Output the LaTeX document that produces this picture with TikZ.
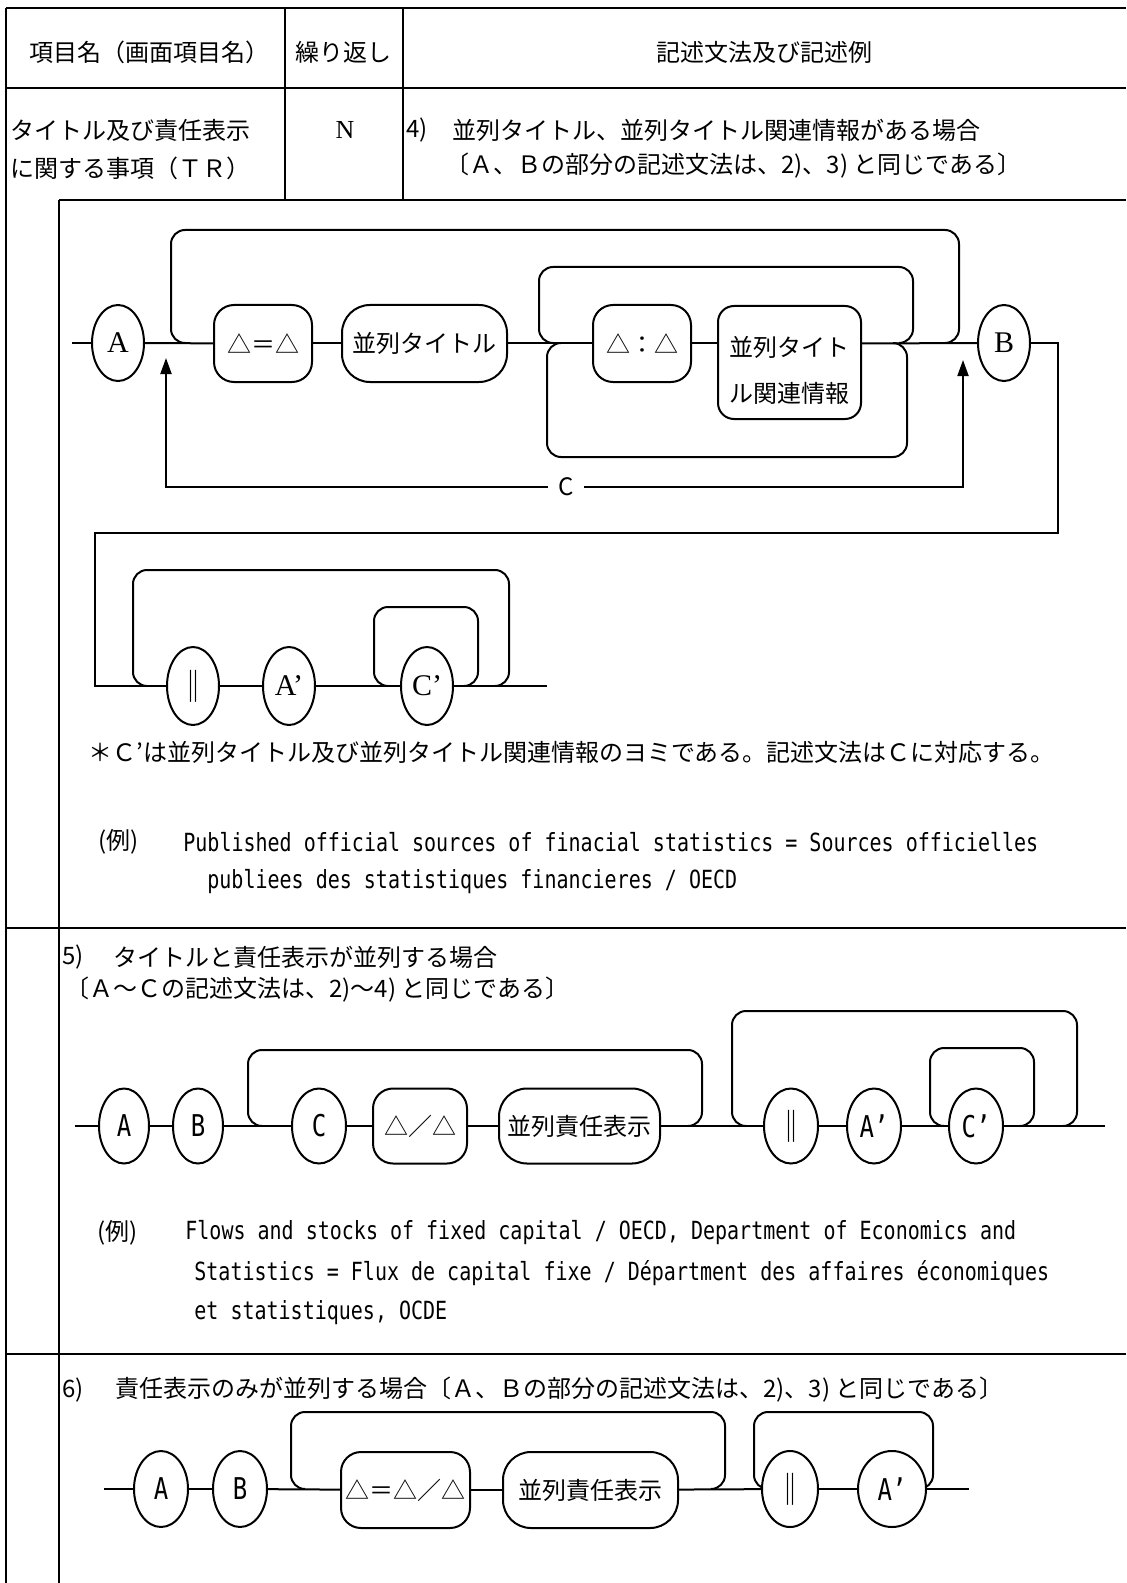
\documentclass[tikz,border=0pt]{standalone}
\usepackage{fontspec}
\usepackage{graphicx}
\setmainfont{Liberation Serif}
\newfontfamily\jp{Noto Sans CJK JP}
\newfontfamily\monof{DejaVu Sans Mono}
\usetikzlibrary{shapes.geometric,arrows.meta}
\newcommand{\vstr}[1]{\scalebox{1}[1.25]{#1}}
\begin{document}
\begin{tikzpicture}[x=0.5pt,y=-0.5pt,
  tbl/.style={line width=1pt},
  ln/.style={line width=1pt},
  brk/.style={line width=1pt, rounded corners=7pt},
  oval/.style={ellipse, draw, line width=1pt, minimum width=26pt, minimum height=38pt, inner sep=0pt, fill=white},
  rbox/.style={draw, rounded corners=10pt, line width=1pt, minimum height=38.5pt, inner sep=0pt, fill=white},
  jt/.style={font=\jp\fontsize{12pt}{14pt}\selectfont, inner sep=0pt},
  jtl/.style={jt, anchor=west},
  lat/.style={font=\fontsize{15pt}{17pt}\selectfont},
  bars/.style={font=\jp\fontsize{16pt}{18pt}\selectfont},
  nar/.style={font=\monof\fontsize{12pt}{14pt}\selectfont},
  ex/.style={font=\monof\fontsize{10pt}{12pt}\selectfont, inner sep=0pt, anchor=west},
  tip/.tip={Triangle[length=8pt,width=5.5pt]}
]
\useasboundingbox (0,0) rectangle (1126,1583);
\fill[white] (0,0) rectangle (1126,1583);

% ---------- table lines ----------
\draw[tbl] (6,8) -- (1126,8);
\draw[tbl] (6,8) -- (6,1583);
\draw[tbl] (6,88) -- (1126,88);
\draw[tbl] (285,8) -- (285,200);
\draw[tbl] (403,8) -- (403,200);
\draw[tbl] (59,200) -- (1126,200);
\draw[tbl] (59,200) -- (59,1583);
\draw[tbl] (6,928) -- (1126,928);
\draw[tbl] (6,1354) -- (1126,1354);

% ---------- header ----------
\node[jt] (h1) at (149,52) {項目名（画面項目名）};
\node[jt] (h2) at (343,52) {繰り返し};
\node[jt] (h3) at (764,52) {記述文法及び記述例};
\node[jtl] (r1a) at (10,130) {タイトル及び責任表示};
\node[jtl] (r1b) at (10,168) {に関する事項（ＴＲ）};
\node[font=\fontsize{13pt}{15pt}\selectfont] (rN) at (345,130) {N};
\node[jtl] (r4n) at (406,130) {4)};
\node[jtl] (r4a) at (452,130) {並列タイトル、並列タイトル関連情報がある場合};
\node[jtl] (r4b) at (445,166) {〔Ａ、Ｂの部分の記述文法は、2)、3) と同じである〕};

% ---------- diagram 4 ----------
\draw[brk] (185,343) -- (171,343) -- (171,230) -- (959,230) -- (959,343) -- (945,343);
\draw[brk] (553,343) -- (539,343) -- (539,267) -- (913,267) -- (913,343) -- (899,343);
\draw[brk] (561,343) -- (547,343) -- (547,457) -- (907,457) -- (907,343) -- (893,343);

\coordinate (s4) at (72,343);
\node[oval, lat] (A4) at (118,343) {A};
\node[rbox, jt, minimum width=49pt] (eq4) at (263,343.5) {△＝△};
\node[rbox, jt, minimum width=82.5pt, rounded corners=14pt] (pt4) at (424.5,343.5) {並列タイトル};
\node[rbox, jt, minimum width=49pt] (co4) at (642,343.5) {△：△};
\node[rbox, minimum width=71.5pt, minimum height=56.5pt, rounded corners=8pt] (rel4) at (789.5,362.5) {};
\node[jt, align=center, font=\jp\fontsize{12pt}{23pt}\selectfont] (relt4) at (789.5,370) {並列タイト\\ル関連情報};
\node[oval, lat] (B4) at (1004,343) {B};

\draw[ln] (s4) -- (A4);
\draw[ln] (A4) -- (eq4);
\draw[ln] (eq4) -- (pt4);
\draw[ln] (pt4) -- (co4);
\draw[ln] (co4.east) -- (co4.east -| rel4.west);
\draw[ln] (co4.east -| rel4.east) -- (B4.west);

\coordinate (aL) at (166,358);
\coordinate (cL) at (166,487);
\coordinate (cR) at (963,487);
\coordinate (aR) at (963,360);
\draw[ln, {tip}-{tip}] (aL) -- (cL) -- (cR) -- (aR);
\node[fill=white, inner xsep=5pt, inner ysep=1pt, font=\jp\fontsize{12pt}{14pt}\selectfont] (C4) at (566,487) {C};

% second line
\draw[brk] (147,686) -- (133,686) -- (133,570) -- (509,570) -- (509,686) -- (495,686);
\draw[brk] (388,686) -- (374,686) -- (374,607) -- (478,607) -- (478,686) -- (464,686);
\node[oval, minimum height=39pt, bars] (par4) at (193,686) {‖};
\node[oval, minimum height=39pt, lat] (Ap4) at (289,686) {A’};
\node[oval, minimum height=39pt, lat] (Cp4) at (427,686) {C’};
\coordinate (e4) at (547,686);
\draw[ln] (B4.east) -- (1058,343) -- (1058,533) -- (95,533) -- (95,686) -- (par4.west);
\draw[ln] (par4) -- (Ap4);
\draw[ln] (Ap4) -- (Cp4);
\draw[ln] (Cp4) -- (e4);

\node[jtl] (note4) at (88,752) {＊Ｃ’は並列タイトル及び並列タイトル関連情報のヨミである。記述文法はＣに対応する。};
\node[jtl] (ex4l) at (98,842) {(例)};
\node[ex] (ex4a) at (183,842) {\vstr{Published official sources of finacial statistics = Sources officielles}};
\node[ex] (ex4b) at (207,882) {\vstr{publiees des statistiques financieres / OECD}};

% ---------- section 5 ----------
\node[jtl] (s5n) at (62,957) {5)};
\node[jtl] (s5a) at (113,957) {タイトルと責任表示が並列する場合};
\node[jtl] (s5b) at (65,990) {〔Ａ～Ｃの記述文法は、2)～4) と同じである〕};

\draw[brk] (262,1126) -- (248,1126) -- (248,1050) -- (702,1050) -- (702,1126) -- (688,1126);
\draw[brk] (746,1126) -- (732,1126) -- (732,1011) -- (1077,1011) -- (1077,1126) -- (1063,1126);
\draw[brk] (944,1126) -- (930,1126) -- (930,1048) -- (1034,1048) -- (1034,1126) -- (1020,1126);
\coordinate (s5) at (75,1126);
\node[oval, minimum width=25pt, minimum height=37.5pt, nar] (A5) at (124,1126) {\vstr{A}};
\node[oval, minimum width=25pt, minimum height=37.5pt, nar] (B5) at (198,1126) {\vstr{B}};
\node[oval, minimum width=27pt, minimum height=37.5pt, nar] (C5) at (319,1126) {\vstr{C}};
\node[rbox, jt, minimum width=47pt, minimum height=37.5pt] (d5) at (420,1126) {△／△};
\node[rbox, jt, minimum width=80.5pt, minimum height=37.5pt, rounded corners=14pt] (r5) at (579.5,1126) {並列責任表示};
\node[oval, minimum width=27pt, minimum height=37.5pt, bars] (par5) at (791,1126) {‖};
\node[oval, minimum width=27pt, minimum height=37.5pt, nar] (Ap5) at (874,1126) {\vstr{A’}};
\node[oval, minimum width=27pt, minimum height=37.5pt, nar] (Cp5) at (976,1126) {\vstr{C’}};
\coordinate (e5) at (1105,1126);
\draw[ln] (s5) -- (A5);
\draw[ln] (A5) -- (B5);
\draw[ln] (B5) -- (C5);
\draw[ln] (C5) -- (d5);
\draw[ln] (d5) -- (r5);
\draw[ln] (r5) -- (par5);
\draw[ln] (par5) -- (Ap5);
\draw[ln] (Ap5) -- (Cp5);
\draw[ln] (Cp5) -- (e5);

\node[jtl] (ex5l) at (97,1233) {(例)};
\node[ex] (ex5a) at (185,1233) {\vstr{Flows and stocks of fixed capital / OECD, Department of Economics and}};
\node[ex] (ex5b) at (194,1273) {\vstr{Statistics = Flux de capital fixe / Départment des affaires économiques}};
\node[ex] (ex5c) at (194,1313) {\vstr{et statistiques, OCDE}};

% ---------- section 6 ----------
\node[jtl] (s6n) at (62,1390) {6)};
\node[jtl] (s6a) at (115,1390) {責任表示のみが並列する場合〔Ａ、Ｂの部分の記述文法は、2)、3) と同じである〕};

\draw[brk] (305,1489) -- (291,1489) -- (291,1412) -- (725,1412) -- (725,1489) -- (711,1489);
\draw[brk] (768,1489) -- (754,1489) -- (754,1412) -- (933,1412) -- (933,1489) -- (919,1489);
\coordinate (s6) at (104,1489);
\node[oval, minimum width=27pt, minimum height=38pt, nar] (A6) at (161,1489) {\vstr{A}};
\node[oval, minimum width=27pt, minimum height=38pt, nar] (B6) at (240,1489) {\vstr{B}};
\node[rbox, jt, minimum width=64.5pt, minimum height=38pt] (e6) at (405.5,1490) {△＝△／△};
\node[rbox, jt, minimum width=87.5pt, minimum height=38pt, rounded corners=14pt] (r6) at (590.5,1490) {並列責任表示};
\node[oval, minimum width=28pt, minimum height=38pt, bars] (par6) at (790,1489) {‖};
\node[oval, minimum width=34pt, minimum height=38pt, nar] (Ap6) at (892,1489) {\vstr{A’}};
\coordinate (t6) at (969,1489);
\draw[ln] (s6) -- (A6);
\draw[ln] (A6) -- (B6);
\draw[ln] (B6) -- (e6);
\draw[ln] (e6) -- (r6);
\draw[ln] (r6) -- (par6);
\draw[ln] (par6) -- (Ap6);
\draw[ln] (Ap6) -- (t6);
\end{tikzpicture}
\end{document}
